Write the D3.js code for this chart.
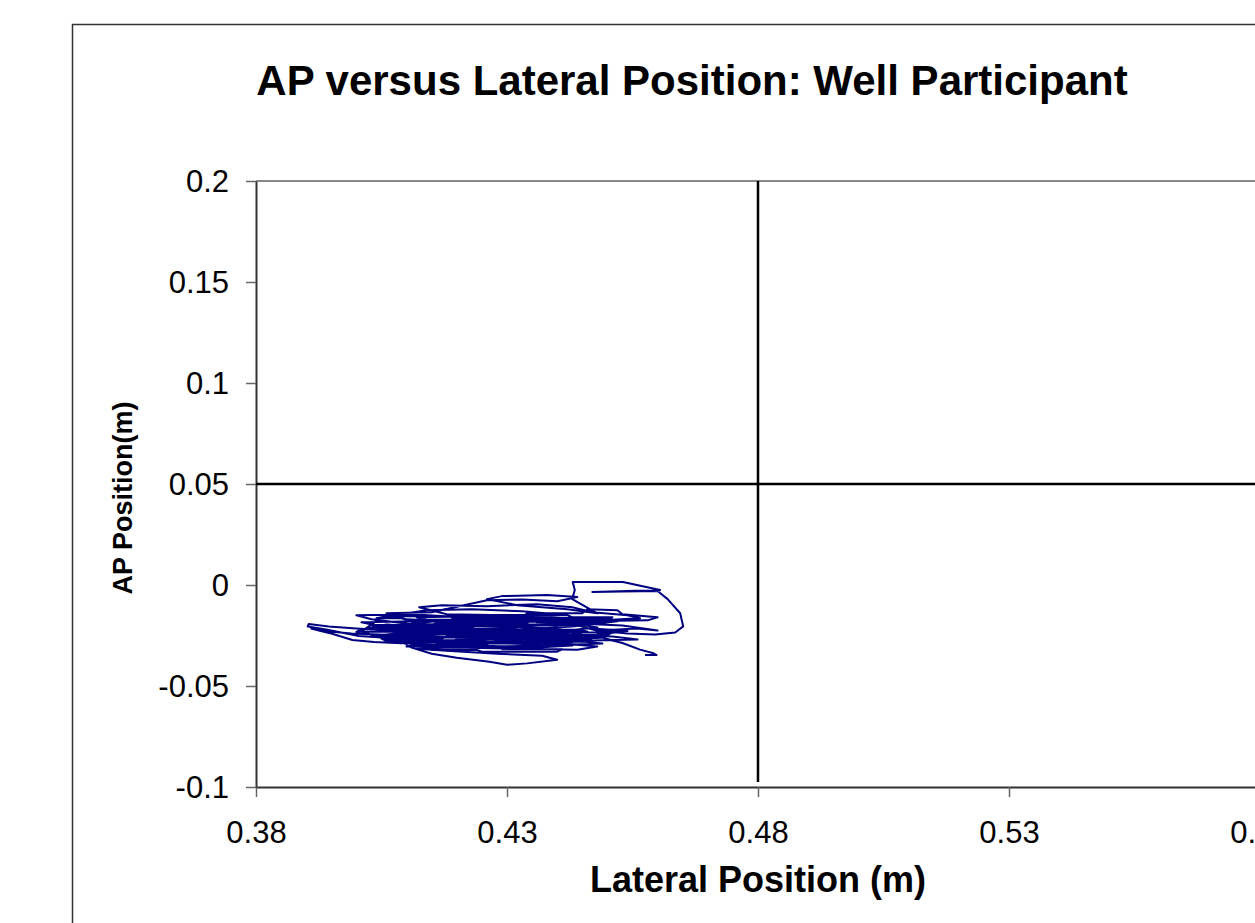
<!DOCTYPE html>
<html>
<head>
<meta charset="utf-8">
<script src="https://cdnjs.cloudflare.com/ajax/libs/d3/7.8.5/d3.min.js"></script>
<style>
    body { margin: 0; background: #fff; }
    svg { display: block; font-family: Arial, 'Liberation Sans', sans-serif; }
</style>
</head>
<body>
<svg></svg>
<script>
var lateral = [
    0.4320, 0.4180, 0.4060, 0.4010, 0.4120, 0.4290, 0.4420, 0.4480, 0.4400, 0.4230,
    0.4100, 0.4040, 0.4150, 0.4330, 0.4460, 0.4500, 0.4440, 0.4270, 0.4130, 0.4030,
    0.4000, 0.4110, 0.4210, 0.4350, 0.4470, 0.4520, 0.4430, 0.4300, 0.4190, 0.4070,
    0.4000, 0.3945, 0.3905, 0.3903, 0.3942, 0.4005, 0.4065, 0.4120, 0.4070, 0.3990,
    0.3935, 0.3910, 0.3925, 0.3950, 0.3992, 0.4035, 0.4090, 0.4200, 0.4340, 0.4450,
    0.4490, 0.4380, 0.4230, 0.4140, 0.4090, 0.4110, 0.4150, 0.4200, 0.4265, 0.4300,
    0.4340, 0.4400, 0.4370, 0.4280, 0.4180, 0.4120, 0.4190, 0.4330, 0.4440, 0.4480,
    0.4410, 0.4260, 0.4150, 0.4060, 0.4010, 0.4050, 0.4140, 0.4230, 0.4330, 0.4400,
    0.4300, 0.4180, 0.4125, 0.4170, 0.4260, 0.4360, 0.4430, 0.4470, 0.4540, 0.4565,
    0.4490, 0.4350, 0.4220, 0.4100, 0.4060, 0.4150, 0.4260, 0.4330, 0.4400, 0.4440,
    0.4380, 0.4290, 0.4260, 0.4320, 0.4420, 0.4480, 0.4430, 0.4435, 0.4431, 0.4531,
    0.4605, 0.4540, 0.4470, 0.4530, 0.4600, 0.4620, 0.4645, 0.4651, 0.4635, 0.4595,
    0.4540, 0.4480, 0.4560, 0.4600, 0.4530, 0.4440, 0.4300, 0.4160, 0.4060, 0.4020,
    0.4120, 0.4280, 0.4420, 0.4510, 0.4560, 0.4470, 0.4330, 0.4190, 0.4080, 0.4150,
    0.4300, 0.4450, 0.4400, 0.4250, 0.4110, 0.4180, 0.4320, 0.4460, 0.4390, 0.4240,
    0.4120, 0.4180, 0.4350, 0.4460, 0.4370, 0.4220, 0.4160, 0.4250, 0.4360, 0.4430,
    0.4300, 0.4200, 0.4330, 0.4490,
    0.4480, 0.4380, 0.4370, 0.4200, 0.4190, 0.4060, 0.4050, 0.4170, 0.4180, 0.4350,
    0.4360, 0.4500, 0.4510, 0.4380, 0.4370, 0.4150, 0.4140, 0.4040, 0.4050, 0.4200,
    0.4210, 0.4400, 0.4410, 0.4490, 0.4480, 0.4300, 0.4290, 0.4100, 0.4090, 0.4040,
    0.4060, 0.4250, 0.4260, 0.4420, 0.4430, 0.4510, 0.4500, 0.4350, 0.4340, 0.4160,
    0.4150, 0.4030, 0.4040, 0.4230, 0.4240, 0.4450, 0.4460, 0.4280, 0.4270, 0.4080,
    0.4070, 0.4230, 0.4240, 0.4420, 0.4430, 0.4270, 0.4260, 0.4110, 0.4100, 0.4280,
    0.4290, 0.4410, 0.4400, 0.4250, 0.4240, 0.4150, 0.4160, 0.4330, 0.4340, 0.4470,
    0.4460, 0.4300, 0.4290, 0.4120, 0.4110, 0.4000, 0.4010, 0.4160, 0.4170, 0.4330,
    0.4340, 0.4460, 0.4470, 0.4360, 0.4350, 0.4200, 0.4190, 0.4330, 0.4340, 0.4450,
    0.4460, 0.4520, 0.4530, 0.4600, 0.4580, 0.4460, 0.4470, 0.4540, 0.4480, 0.4490,
    0.4510, 0.4530, 0.4565, 0.4592, 0.4598, 0.4575
]
var apPos = [
    -0.0215, -0.0220, -0.0210, -0.0185, -0.0180, -0.0175, -0.0185, -0.0210, -0.0230, -0.0240,
    -0.0235, -0.0250, -0.0260, -0.0255, -0.0265, -0.0240, -0.0200, -0.0195, -0.0200, -0.0170,
    -0.0150, -0.0145, -0.0160, -0.0165, -0.0160, -0.0180, -0.0205, -0.0225, -0.0230, -0.0225,
    -0.0215, -0.0205, -0.0193, -0.0205, -0.0222, -0.0252, -0.0262, -0.0255, -0.0248, -0.0240,
    -0.0228, -0.0215, -0.0225, -0.0240, -0.0272, -0.0282, -0.0288, -0.0280, -0.0285, -0.0280,
    -0.0290, -0.0300, -0.0305, -0.0300, -0.0280, -0.0310, -0.0340, -0.0360, -0.0380, -0.0395,
    -0.0388, -0.0370, -0.0350, -0.0340, -0.0325, -0.0315, -0.0310, -0.0315, -0.0320, -0.0305,
    -0.0290, -0.0270, -0.0275, -0.0270, -0.0230, -0.0160, -0.0125, -0.0120, -0.0130, -0.0145,
    -0.0150, -0.0145, -0.0110, -0.0100, -0.0105, -0.0095, -0.0110, -0.0135, -0.0150, -0.0165,
    -0.0175, -0.0180, -0.0185, -0.0170, -0.0140, -0.0135, -0.0075, -0.0072, -0.0080, -0.0060,
    -0.0050, -0.0055, -0.0070, -0.0100, -0.0120, -0.0140, -0.0070, -0.0025, 0.0015, 0.0015,
    -0.0025, -0.0030, -0.0035, -0.0032, -0.0030, -0.0070, -0.0140, -0.0205, -0.0235, -0.0245,
    -0.0240, -0.0225, -0.0215, -0.0225, -0.0200, -0.0190, -0.0200, -0.0210, -0.0195, -0.0215,
    -0.0225, -0.0235, -0.0245, -0.0255, -0.0270, -0.0275, -0.0265, -0.0260, -0.0245, -0.0240,
    -0.0245, -0.0250, -0.0215, -0.0205, -0.0190, -0.0175, -0.0170, -0.0175, -0.0160, -0.0155,
    -0.0160, -0.0195, -0.0210, -0.0230, -0.0280, -0.0290, -0.0285, -0.0300, -0.0310, -0.0300,
    -0.0290, -0.0270, -0.0250, -0.0260,
    -0.0262, -0.0262, -0.0270, -0.0270, -0.0278, -0.0278, -0.0265, -0.0265, -0.0255, -0.0255,
    -0.0248, -0.0248, -0.0235, -0.0235, -0.0228, -0.0228, -0.0220, -0.0220, -0.0208, -0.0208,
    -0.0200, -0.0200, -0.0192, -0.0192, -0.0182, -0.0182, -0.0172, -0.0172, -0.0165, -0.0165,
    -0.0155, -0.0155, -0.0148, -0.0148, -0.0160, -0.0160, -0.0170, -0.0170, -0.0188, -0.0188,
    -0.0198, -0.0198, -0.0212, -0.0212, -0.0222, -0.0222, -0.0232, -0.0232, -0.0242, -0.0242,
    -0.0258, -0.0258, -0.0268, -0.0268, -0.0282, -0.0282, -0.0295, -0.0295, -0.0305, -0.0305,
    -0.0318, -0.0318, -0.0330, -0.0330, -0.0322, -0.0322, -0.0290, -0.0290, -0.0275, -0.0275,
    -0.0258, -0.0258, -0.0245, -0.0245, -0.0232, -0.0232, -0.0218, -0.0218, -0.0205, -0.0205,
    -0.0195, -0.0195, -0.0185, -0.0185, -0.0175, -0.0175, -0.0162, -0.0162, -0.0140, -0.0140,
    -0.0120, -0.0125, -0.0145, -0.0160, -0.0175, -0.0180, -0.0215, -0.0228, -0.0245, -0.0260,
    -0.0275, -0.0287, -0.0320, -0.0338, -0.0347, -0.0346
]

var xTicks = [0.38, 0.43, 0.48, 0.53, 0.58]
var xTickLabels = ['0.38', '0.43', '0.48', '0.53', '0.58']
var yTicks = [0.2, 0.15, 0.1, 0.05, 0, -0.05, -0.1]
var yTickLabels = ['0.2', '0.15', '0.1', '0.05', '0', '-0.05', '-0.1']

// quadrant lines
var crossX = [0.48, 0.48]
var crossXy = [0.2, -0.0975]
var crossY = [0.05, 0.05]
var crossYx = [0.38, 0.58]

var svg = d3.select('svg').attr('width', 1255).attr('height', 923)

svg.append('rect')
    .attr('x', 72.5)
    .attr('y', 24.5)
    .attr('width', 1300)
    .attr('height', 1000)
    .attr('fill', '#fff')
    .attr('stroke', '#333')
    .attr('stroke-width', 1.5)

var x = d3.scaleLinear().domain([0.38, 0.58]).range([256, 1260])
var y = d3.scaleLinear().domain([-0.1, 0.2]).range([787, 181])

// plot frame top + right
svg.append('path')
    .attr('d', 'M' + x(0.38) + ',' + y(0.2) + 'H' + x(0.58) + 'V' + y(-0.1))
    .attr('fill', 'none')
    .attr('stroke', '#888')
    .attr('stroke-width', 2)

var xAxis = d3.axisBottom(x)
    .tickValues(xTicks)
    .tickFormat((d, i) => xTickLabels[i])
    .tickSizeInner(10)
    .tickSizeOuter(0)
    .tickPadding(24)

var yAxis = d3.axisLeft(y)
    .tickValues(yTicks)
    .tickFormat((d, i) => yTickLabels[i])
    .tickSizeInner(10)
    .tickSizeOuter(0)
    .tickPadding(17)

var gx = svg.append('g')
    .attr('transform', 'translate(0,' + y(-0.1) + ')')
    .call(xAxis)

var gy = svg.append('g')
    .attr('transform', 'translate(' + x(0.38) + ',0)')
    .call(yAxis)

svg.selectAll('.domain').attr('stroke', '#333').attr('stroke-width', 2)
svg.selectAll('.tick line').attr('stroke', '#666').attr('stroke-width', 1.5)
svg.selectAll('.tick text')
    .attr('font-family', 'Arial, "Liberation Sans", sans-serif')
    .attr('font-size', 31)
    .attr('fill', '#000')
gy.selectAll('.tick text').attr('dy', '0.35em')

var line = d3.line()
    .x((d) => x(d[0]))
    .y((d) => y(d[1]))

svg.append('path')
    .datum(d3.zip(crossX, crossXy))
    .attr('d', line)
    .attr('fill', 'none')
    .attr('stroke', '#000')
    .attr('stroke-width', 2.5)

svg.append('path')
    .datum(d3.zip(crossYx, crossY))
    .attr('d', line)
    .attr('fill', 'none')
    .attr('stroke', '#000')
    .attr('stroke-width', 2.5)

svg.append('path')
    .datum(d3.zip(lateral, apPos))
    .attr('d', line)
    .attr('fill', 'none')
    .attr('stroke', '#000080')
    .attr('stroke-width', 2)
    .attr('stroke-linejoin', 'round')

svg.append('text')
    .attr('x', 692)
    .attr('y', 95)
    .attr('text-anchor', 'middle')
    .attr('font-size', 42)
    .attr('font-weight', 'bold')
    .text('AP versus Lateral Position: Well Participant')

svg.append('text')
    .attr('x', 758)
    .attr('y', 892)
    .attr('text-anchor', 'middle')
    .attr('font-size', 36)
    .attr('font-weight', 'bold')
    .text('Lateral Position (m)')

svg.append('text')
    .attr('transform', 'translate(132,498) rotate(-90)')
    .attr('text-anchor', 'middle')
    .attr('font-size', 27)
    .attr('font-weight', 'bold')
    .text('AP Position(m)')
</script>
</body>
</html>
